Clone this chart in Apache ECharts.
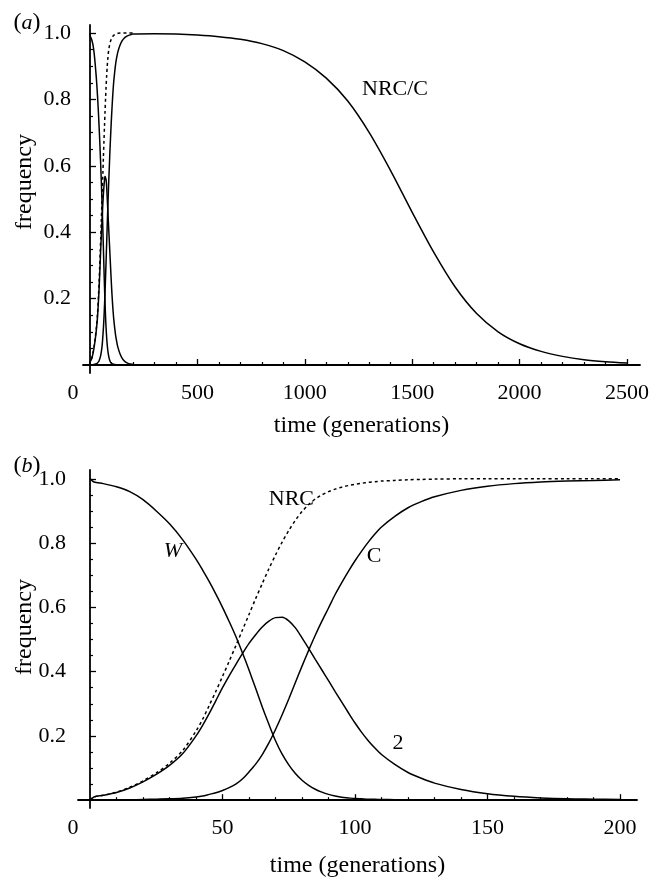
<!DOCTYPE html>
<html>
<head>
<meta charset="utf-8">
<script src="https://cdn.jsdelivr.net/npm/echarts@6/dist/echarts.min.js"></script>
<style>
  html, body { margin: 0; padding: 0; background: #fff; }
  #chart { width: 664px; height: 879px; }
</style>
</head>
<body>
<div id="chart"></div>
<script>
// generations (panel b, also the start of panel a)
var genB = [0, 1.5, 5, 10, 15, 20, 25, 30, 35,
  40, 42.5, 45, 47.5, 50, 52.5, 55, 57.5, 60, 62.5, 65, 67.5, 70, 72.5, 75, 77.5, 80, 82.5, 85, 87.5, 90,
  92.5, 95, 97.5, 100, 102.5, 105, 107.5, 110, 115, 120, 125,
  130, 140, 150, 160, 170, 180, 190, 200];
// frequency of W
var wB = [1.0, 0.99, 0.985, 0.975, 0.96, 0.935, 0.9, 0.86, 0.81,
  0.75, 0.716, 0.68, 0.641, 0.60, 0.556, 0.51, 0.459, 0.405, 0.348, 0.29, 0.236, 0.185, 0.143, 0.11, 0.083, 0.062, 0.046, 0.034, 0.025, 0.018,
  0.013, 0.009, 0.007, 0.005, 0.004, 0.003, 0.0025, 0.002, 0.0015, 0.001, 0.0005,
  0, 0, 0, 0, 0, 0, 0, 0];
// frequency of NRC (dashed)
var nrcB = [0, 0.01, 0.015, 0.025, 0.04, 0.06, 0.085, 0.115, 0.155,
  0.215, 0.252, 0.295, 0.339, 0.385, 0.432, 0.48, 0.529, 0.578, 0.627, 0.674, 0.72, 0.763, 0.803, 0.839, 0.871, 0.898, 0.92, 0.937, 0.95, 0.96,
  0.968, 0.974, 0.979, 0.983, 0.986, 0.989, 0.991, 0.993, 0.995, 0.997, 0.998,
  0.999, 1.0, 1.0, 1.0, 1.0, 1.0, 1.0, 1.0];
// frequency of 2
var twoB = [0, 0.01, 0.015, 0.024, 0.038, 0.057, 0.08, 0.108, 0.145,
  0.2, 0.233, 0.27, 0.31, 0.35, 0.387, 0.422, 0.456, 0.488, 0.515, 0.539, 0.557, 0.568, 0.569, 0.558, 0.536, 0.505, 0.472, 0.438, 0.405, 0.372,
  0.338, 0.305, 0.272, 0.24, 0.211, 0.185, 0.162, 0.142, 0.111, 0.086, 0.068,
  0.053, 0.033, 0.02, 0.012, 0.007, 0.004, 0.003, 0.002];
// frequency of C
var cB = [0, 0, 0, 0, 0.001, 0.002, 0.003, 0.004, 0.006,
  0.01, 0.013, 0.018, 0.023, 0.03, 0.039, 0.05, 0.066, 0.088, 0.112, 0.142, 0.178, 0.22, 0.266, 0.315, 0.366, 0.417, 0.466, 0.513, 0.557, 0.598,
  0.64, 0.677, 0.712, 0.745, 0.775, 0.803, 0.828, 0.85, 0.883, 0.91, 0.929,
  0.944, 0.964, 0.977, 0.985, 0.99, 0.993, 0.995, 0.997];
// panel a: NRC/C after generation 200
var genTail = [300, 400, 500, 600, 700, 800, 900, 1000, 1100, 1200, 1300, 1400, 1500, 1600, 1700, 1800, 1900, 2000, 2100, 2200, 2300, 2400, 2500];
var cTail = [0.998, 0.997, 0.994, 0.989, 0.981, 0.968, 0.947, 0.913, 0.864, 0.795, 0.7, 0.585, 0.46, 0.34, 0.235, 0.155, 0.1, 0.064, 0.041, 0.026, 0.016, 0.01, 0.006];

// ticks
var xMajorA = [0, 500, 1000, 1500, 2000, 2500];
var xMinorA = [100, 200, 300, 400, 600, 700, 800, 900, 1100, 1200, 1300, 1400, 1600, 1700, 1800, 1900, 2100, 2200, 2300, 2400];
var xMajorB = [0, 50, 100, 150, 200];
var xMinorB = [10, 20, 30, 40, 60, 70, 80, 90, 110, 120, 130, 140, 160, 170, 180, 190];
var yMajor = [0.2, 0.4, 0.6, 0.8, 1.0];
var yMinor = [0.05, 0.1, 0.15, 0.25, 0.3, 0.35, 0.45, 0.5, 0.55, 0.65, 0.7, 0.75, 0.85, 0.9, 0.95];

var FONT = '"Liberation Serif", "DejaVu Serif", serif';

function pairs(xs, ys) {
  return xs.map(function (x, i) { return [x, ys[i]]; });
}

function xAxes(grid, yIdx, min, max, major, minor, gap) {
  return [{
    gridIndex: grid, type: 'value', min: min, max: max, position: 'bottom',
    axisLine: { onZero: true, onZeroAxisIndex: yIdx, lineStyle: { color: '#000', width: 1.8 } },
    axisTick: { inside: true, length: 6, customValues: major.slice(1), lineStyle: { color: '#000', width: 1.3 } },
    axisLabel: {
      customValues: major, margin: 9, color: '#000', fontFamily: FONT, fontSize: 22,
      formatter: function (v) { return v === 0 ? '{z|0}' : String(v); },
      rich: { z: { padding: [0, 34, 0, 0], color: '#000', fontFamily: FONT, fontSize: 22 } }
    },
    splitLine: { show: false },
    name: 'time (generations)', nameLocation: 'middle', nameGap: gap,
    nameTextStyle: { color: '#000', fontFamily: FONT, fontSize: 24 }
  }, {
    gridIndex: grid, type: 'value', min: min, max: max, position: 'bottom',
    axisLine: { show: false, onZero: true, onZeroAxisIndex: yIdx },
    axisTick: { inside: true, length: 3, customValues: minor, lineStyle: { color: '#000', width: 1.2 } },
    axisLabel: { show: false },
    splitLine: { show: false }
  }];
}

function yAxes(grid, xIdx, min, max) {
  return [{
    gridIndex: grid, type: 'value', min: min, max: max,
    axisLine: { onZero: true, onZeroAxisIndex: xIdx, lineStyle: { color: '#000', width: 1.8 } },
    axisTick: { inside: true, length: 6, customValues: yMajor, lineStyle: { color: '#000', width: 1.3 } },
    axisLabel: {
      customValues: yMajor, margin: 12, color: '#000', fontFamily: FONT, fontSize: 22,
      formatter: function (v) { return v.toFixed(1); }
    },
    splitLine: { show: false }
  }, {
    gridIndex: grid, type: 'value', min: min, max: max, position: 'left',
    axisLine: { show: false, onZero: true, onZeroAxisIndex: xIdx },
    axisTick: { inside: true, length: 3, customValues: yMinor, lineStyle: { color: '#000', width: 1.2 } },
    axisLabel: { show: false },
    splitLine: { show: false }
  }];
}

function curve(name, xi, data, dashed, label) {
  var s = {
    name: name, type: 'line', xAxisIndex: xi, yAxisIndex: xi, data: data,
    showSymbol: false, smooth: 0.3, silent: true, animation: false,
    lineStyle: { color: '#000', width: 1.5, type: dashed ? [3, 3] : 'solid' }
  };
  if (label) {
    s.markPoint = {
      symbol: 'circle', symbolSize: 0, silent: true, animation: false,
      data: [{
        coord: label.at,
        label: {
          show: true, position: 'inside', formatter: label.text, color: '#000',
          fontFamily: FONT, fontSize: 22, fontStyle: label.italic ? 'italic' : 'normal'
        }
      }]
    };
  }
  return s;
}

function textItem(x, y, text, rotate) {
  return {
    type: 'text', x: x, y: y, rotation: rotate ? Math.PI / 2 : 0,
    style: {
      text: text, font: '24px ' + FONT, fill: '#000',
      align: 'center', verticalAlign: 'middle', textAlign: 'center', textVerticalAlign: 'middle',
      rich: { i: { fontStyle: 'italic', fontFamily: FONT, fontSize: 22 } }
    }
  };
}

var chart = echarts.init(document.getElementById('chart'), null, { renderer: 'canvas' });

var option = {
  backgroundColor: '#fff',
  animation: false,
  grid: [
    { left: 83, right: 24, top: 25, height: 348 },
    { left: 78, right: 27, top: 470, height: 345 }
  ],
  xAxis: xAxes(0, 0, -32.6, 2560.5, xMajorA, xMinorA, 41)
    .concat(xAxes(1, 2, -4.53, 206.4, xMajorB, xMinorB, 46)),
  yAxis: yAxes(0, 0, -0.0241, 1.0241)
    .concat(yAxes(1, 2, -0.0244, 1.0274)),
  graphic: [
    textItem(27, 23, '({i|a})'),
    textItem(27, 466, '({i|b})'),
    textItem(25, 182, 'frequency', true),
    textItem(25, 627, 'frequency', true)
  ],
  series: [
    // panel a
    curve('NRC', 0, pairs(genB, nrcB), true),
    curve('W', 0, pairs(genB, wB), false),
    curve('2', 0, pairs(genB, twoB), false),
    curve('C', 0, pairs(genB.concat(genTail), cB.concat(cTail)), false, { at: [1420, 0.83], text: 'NRC/C' }),
    // panel b
    curve('NRC', 2, pairs(genB, nrcB), true, { at: [76, 0.935], text: 'NRC' }),
    curve('W', 2, pairs(genB, wB), false, { at: [31.3, 0.774], text: 'W', italic: true }),
    curve('2', 2, pairs(genB, twoB), false, { at: [116.2, 0.177], text: '2' }),
    curve('C', 2, pairs(genB, cB), false, { at: [107.2, 0.759], text: 'C' })
  ]
};

chart.setOption(option);
</script>
</body>
</html>
